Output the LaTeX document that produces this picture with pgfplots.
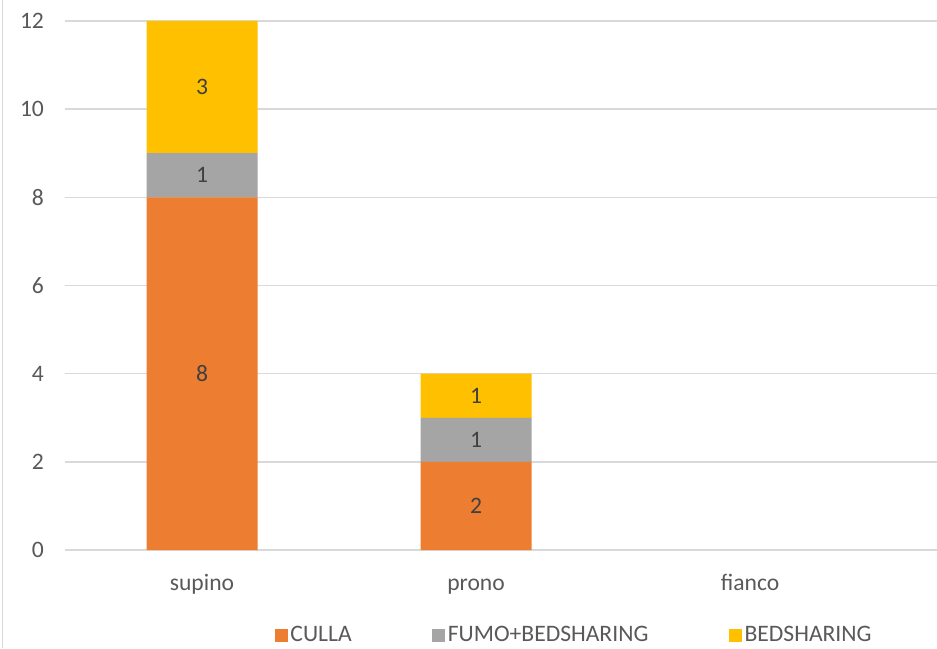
\documentclass[border=0pt]{standalone}
\usepackage{fontspec}
\setmainfont{Carlito}
\usepackage{pgfplots}
\usepackage{pgfplotstable}
\pgfplotsset{compat=1.18}

\definecolor{culla}{HTML}{ED7D31}
\definecolor{fumo}{HTML}{A5A5A5}
\definecolor{bedsh}{HTML}{FFC000}
\definecolor{gridgray}{HTML}{D9D9D9}
\definecolor{ticktext}{HTML}{595959}
\definecolor{labeltext}{HTML}{404040}

\pgfplotstableread{
x culla fumo bed
0 8 1 3
1 2 1 1
2 0 0 0
}\posdata

% stacked labels land mid-segment already; empty for zero segments
\pgfplotsset{
  seglabel/.style={
    visualization depends on={\thisrow{#1} \as \rawy},
    nodes near coords={\pgfmathparse{\rawy>0.5}\ifdim\pgfmathresult pt>0.5pt\pgfmathprintnumber{\rawy}\fi},
    every node near coord/.style={anchor=center,
      font=\fontsize{11.8}{14}\selectfont, text=labeltext},
  },
}

\begin{document}
\begin{tikzpicture}
  \useasboundingbox (-32.5pt,-49pt) rectangle (436pt,275pt);
  \draw[gridgray, line width=0.8pt] (-31.2pt,-49pt) -- (-31.2pt,275pt);
  \begin{axis}[
      at={(0pt,0pt)}, anchor=south west,
      scale only axis, width=436pt, height=264.5pt,
      xmin=-0.5, xmax=2.682, ymin=0, ymax=12,
      ybar stacked, bar width=55.5pt,
      xtick={0,1,2}, xticklabels={supino,prono,fianco},
      ytick={0,2,...,12},
      ymajorgrids, grid style={gridgray, line width=0.75pt},
      major tick length=0pt,
      axis line style={draw=none},
      tick label style={font=\fontsize{11.8}{14}\selectfont, text=ticktext},
      /pgf/number format/assume math mode=true,
      yticklabel style={xshift=-7pt},
      xticklabel style={anchor=base, yshift=-20pt},
      legend style={at={(0.5843,-0.1607)}, anchor=center, draw=none, fill=none,
        font=\fontsize{11.8}{14}\selectfont, text=ticktext,
        nodes={inner sep=1.3pt},
        /tikz/every even column/.append style={column sep=39pt}},
      legend columns=3,
      legend image code/.code={\path[#1, draw=none] (0pt,-3.25pt) rectangle (6.5pt,3.25pt);},
    ]
    \addplot[fill=culla, draw=none, seglabel=culla] table[x=x, y=culla] {\posdata};
    \addplot[fill=fumo, draw=none, seglabel=fumo] table[x=x, y=fumo] {\posdata};
    \addplot[fill=bedsh, draw=none, seglabel=bed] table[x=x, y=bed] {\posdata};
    \legend{CULLA, FUMO+BEDSHARING, BEDSHARING}
  \end{axis}
\end{tikzpicture}
\end{document}
